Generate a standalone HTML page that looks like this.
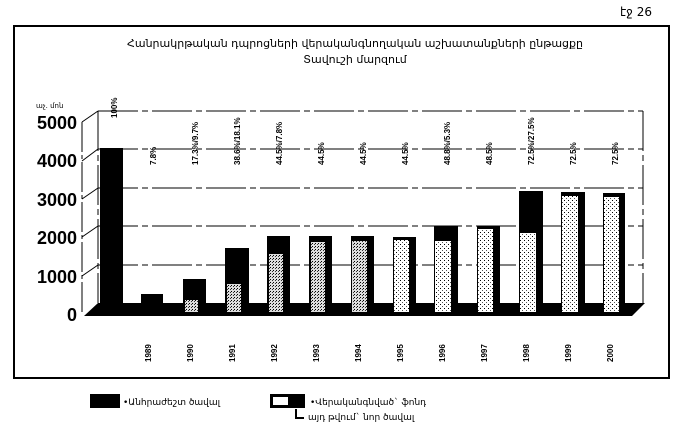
<!DOCTYPE html>
<html><head><meta charset="utf-8"><style>
html,body{margin:0;padding:0;background:#fff;}
svg{display:block;font-family:"Liberation Sans","DejaVu Sans",sans-serif;}
</style></head><body>
<svg width="681" height="434" viewBox="0 0 681 434" xmlns="http://www.w3.org/2000/svg">
<defs>
<pattern id="dots" width="4" height="4" patternUnits="userSpaceOnUse">
<rect width="4" height="4" fill="#fff"/>
<rect x="0" y="0" width="1" height="1" fill="#000"/>
<rect x="2" y="2" width="1" height="1" fill="#555"/>
</pattern>
<pattern id="dense" width="3" height="3" patternUnits="userSpaceOnUse">
<rect width="3" height="3" fill="#ddd"/>
<rect x="0" y="0" width="1" height="1" fill="#000"/>
<rect x="2" y="1" width="1" height="1" fill="#333"/>
</pattern>
</defs>
<text x="620" y="16" font-size="12" font-family="DejaVu Sans">էջ 26</text>
<rect x="14" y="26" width="655" height="352" fill="none" stroke="#000" stroke-width="2"/>
<text x="355" y="47" font-size="11" text-anchor="middle" font-family="DejaVu Sans">Հանրակրթական դպրոցների վերականգնողական աշխատանքների ընթացքը</text>
<text x="355" y="63" font-size="11" text-anchor="middle" font-family="DejaVu Sans">Տավուշի մարզում</text>
<text x="36" y="108" font-size="7" font-family="DejaVu Sans">աչ. մոն</text>
<!-- back wall -->
<g stroke="#000" stroke-width="1" stroke-dasharray="40,4,6,4">
<line x1="98" y1="111" x2="643" y2="111"/>
<line x1="98" y1="149" x2="643" y2="149"/>
<line x1="98" y1="188" x2="643" y2="188"/>
<line x1="98" y1="226" x2="643" y2="226"/>
<line x1="98" y1="265" x2="643" y2="265"/>
<line x1="98" y1="111" x2="98" y2="303"/>
<line x1="643" y1="111" x2="643" y2="303"/>
</g>
<g stroke="#000" stroke-width="1">
<line x1="82" y1="122" x2="98" y2="111"/>
<line x1="82" y1="161" x2="98" y2="149"/>
<line x1="82" y1="199" x2="98" y2="188"/>
<line x1="82" y1="237" x2="98" y2="226"/>
<line x1="82" y1="276" x2="98" y2="265"/>
<line x1="82" y1="122" x2="82" y2="314" stroke-dasharray="30,3,4,3"/>
</g>
<g font-size="18" font-weight="bold" text-anchor="end">
<text x="77" y="129">5000</text>
<text x="77" y="167">4000</text>
<text x="77" y="206">3000</text>
<text x="77" y="244">2000</text>
<text x="77" y="283">1000</text>
<text x="77" y="321">0</text>
</g>
<!-- floor -->
<polygon points="84,316 98,303 645,303 632,316" fill="#000"/>
<!-- bars -->
<g>
<rect x="100" y="148" width="23" height="165" fill="#000"/>
<rect x="141" y="294" width="22" height="18" fill="#000"/>
<rect x="183" y="279" width="23" height="33" fill="#000"/><rect x="185" y="300" width="13" height="12" fill="url(#dense)"/>
<rect x="225" y="248" width="24" height="64" fill="#000"/><rect x="227" y="284" width="14" height="28" fill="url(#dense)"/>
<rect x="267" y="236" width="23" height="76" fill="#000"/><rect x="269" y="254" width="14" height="58" fill="url(#dense)"/>
<rect x="309" y="236" width="23" height="76" fill="#000"/><rect x="311" y="242" width="14" height="70" fill="url(#dense)"/>
<rect x="351" y="236" width="23" height="76" fill="#000"/><rect x="352" y="241" width="15" height="71" fill="url(#dense)"/>
<rect x="393" y="237" width="23" height="75" fill="#000"/><rect x="394" y="240" width="15" height="72" fill="url(#dots)"/>
<rect x="434" y="226" width="24" height="86" fill="#000"/><rect x="435" y="241" width="16" height="71" fill="url(#dots)"/>
<rect x="477" y="226" width="23" height="86" fill="#000"/><rect x="478" y="229" width="15" height="83" fill="url(#dots)"/>
<rect x="519" y="191" width="24" height="121" fill="#000"/><rect x="520" y="233" width="16" height="79" fill="url(#dots)"/>
<rect x="561" y="192" width="24" height="120" fill="#000"/><rect x="562" y="196" width="16" height="116" fill="url(#dots)"/>
<rect x="603" y="193" width="22" height="119" fill="#000"/><rect x="604" y="197" width="15" height="115" fill="url(#dots)"/>
</g>
<!-- percent labels -->
<g font-size="8" font-weight="bold">
<text transform="translate(117,118) rotate(-90)">100%</text>
<text transform="translate(156,165) rotate(-90)">7.8%</text>
<text transform="translate(198,165) rotate(-90)">17.3%/9.7%</text>
<text transform="translate(240,165) rotate(-90)">38.6%/18.1%</text>
<text transform="translate(282,165) rotate(-90)">44.5%/7.8%</text>
<text transform="translate(324,165) rotate(-90)">44.5%</text>
<text transform="translate(366,165) rotate(-90)">44.5%</text>
<text transform="translate(408,165) rotate(-90)">44.5%</text>
<text transform="translate(450,165) rotate(-90)">48.8%/5.3%</text>
<text transform="translate(492,165) rotate(-90)">48.5%</text>
<text transform="translate(534,165) rotate(-90)">72.5%/27.5%</text>
<text transform="translate(576,165) rotate(-90)">72.5%</text>
<text transform="translate(618,165) rotate(-90)">72.5%</text>
</g>
<!-- years -->
<g font-size="8" font-weight="bold">
<text transform="translate(151,362) rotate(-90)">1989</text>
<text transform="translate(193,362) rotate(-90)">1990</text>
<text transform="translate(235,362) rotate(-90)">1991</text>
<text transform="translate(277,362) rotate(-90)">1992</text>
<text transform="translate(319,362) rotate(-90)">1993</text>
<text transform="translate(361,362) rotate(-90)">1994</text>
<text transform="translate(403,362) rotate(-90)">1995</text>
<text transform="translate(445,362) rotate(-90)">1996</text>
<text transform="translate(487,362) rotate(-90)">1997</text>
<text transform="translate(529,362) rotate(-90)">1998</text>
<text transform="translate(571,362) rotate(-90)">1999</text>
<text transform="translate(613,362) rotate(-90)">2000</text>
</g>
<!-- legend -->
<rect x="90" y="394" width="30" height="14" fill="#000"/>
<text x="123" y="405" font-size="9" font-family="DejaVu Sans">•Անհրաժեշտ ծավալ</text>
<rect x="270" y="394" width="35" height="14" fill="#000"/>
<rect x="273" y="397" width="15" height="8" fill="#fff"/>
<text x="310" y="405" font-size="9" font-family="DejaVu Sans">•Վերականգնված` ֆոնդ</text>
<path d="M296,409 L296,418 L304,418" stroke="#000" stroke-width="2" fill="none"/>
<text x="308" y="420" font-size="9" font-family="DejaVu Sans">այդ թվում` նոր ծավալ</text>
</svg>
</body></html>
